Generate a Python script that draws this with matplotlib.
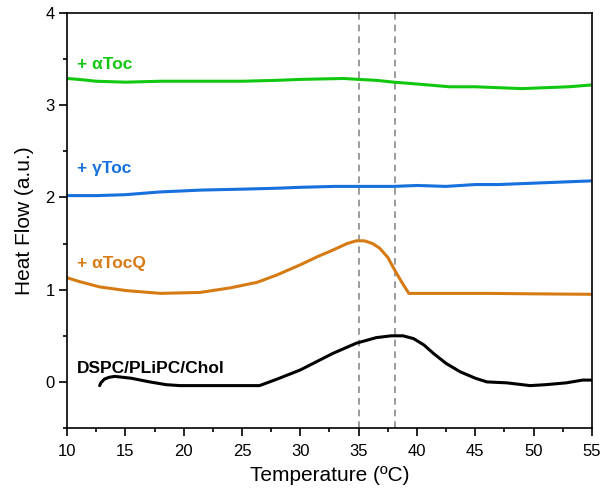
import matplotlib.pyplot as plt

plt.rcParams['font.family'] = ['Liberation Sans', 'DejaVu Sans']

# + alphaToc
t_a = [10, 11, 12.5, 15, 18, 21.5, 25, 28, 30, 33.7, 35, 36.5, 38, 40, 42.8, 45, 47, 49, 51, 53, 55]
h_a = [3.29, 3.28, 3.26, 3.25, 3.26, 3.26, 3.26, 3.27, 3.28, 3.29, 3.28, 3.27, 3.25, 3.23, 3.20, 3.20, 3.19, 3.18, 3.19, 3.20, 3.22]

# + gammaToc
t_g = [10, 12.5, 15, 18, 21.5, 25, 28, 30, 33, 35, 38, 40, 42.5, 45, 47, 49, 51, 53, 55]
h_g = [2.02, 2.02, 2.03, 2.06, 2.08, 2.09, 2.10, 2.11, 2.12, 2.12, 2.12, 2.13, 2.12, 2.14, 2.14, 2.15, 2.16, 2.17, 2.18]

# + alphaTocQ
t_q = [10, 11, 12.8, 15.1, 18, 21.4, 24, 26.3, 28, 30, 31.5, 32.8, 34, 34.8, 35.5, 36.2, 36.8, 37.5, 38.1, 38.7, 39.3, 42, 46, 50, 55]
h_q = [1.13, 1.09, 1.03, 0.99, 0.96, 0.97, 1.02, 1.08, 1.16, 1.27, 1.36, 1.43, 1.50, 1.53, 1.53, 1.50, 1.45, 1.35, 1.21, 1.08, 0.96, 0.96, 0.96, 0.955, 0.95]

# DSPC/PLiPC/Chol
t_c = [12.8, 12.9, 13.2, 13.6, 14.1, 15.5, 17.1, 18.5, 19.7, 22, 24, 26.5, 28, 30, 32.8, 34.8, 36.5, 37.8, 38.8, 39.7, 40.6, 41.4, 42.5,
       43.7, 45, 46, 47.7, 49.7, 51, 52.8, 54.2, 55]
h_c = [-0.04, -0.01, 0.03, 0.05, 0.06, 0.04, 0.00, -0.03, -0.04, -0.04, -0.04, -0.04, 0.03, 0.13, 0.31, 0.42, 0.48, 0.50, 0.50, 0.47, 0.40, 0.31,
       0.20, 0.11, 0.04, 0.00, -0.01, -0.04, -0.03, -0.01, 0.02, 0.02]

vlines = [35, 38.1]
labels = ['+ \u03b1Toc', '+ \u03b3Toc', '+ \u03b1TocQ', 'DSPC/PLiPC/Chol']
label_y = [3.39, 2.26, 1.24, 0.10]
colors = ['#11c811', '#1670dd', '#d67b14', '#000000']

fig = plt.figure(figsize=(6.01, 4.92), dpi=100)
ax = fig.add_axes([0.1115, 0.130, 0.8735, 0.8436])

for v in vlines:
    ax.axvline(v, color='#8a8a8a', ls=(0, (4, 3)), lw=1.2, zorder=1)

for (t, h), c in zip([(t_a, h_a), (t_g, h_g), (t_q, h_q), (t_c, h_c)], colors):
    ax.plot(t, h, color=c, lw=2.2, solid_capstyle='round', solid_joinstyle='round', zorder=2)

for lab, y, c in zip(labels, label_y, colors):
    ax.text(10.85, y, lab, color=c, fontsize=12.5, fontweight='bold', va='baseline')

ax.set_xlim(10, 55)
ax.set_ylim(-0.5, 4)
ax.set_xticks(range(10, 56, 5))
ax.set_xticks([x + 2.5 for x in range(10, 55, 5)], minor=True)
ax.set_yticks(range(0, 5))
ax.set_yticks([-0.5, 0.5, 1.5, 2.5, 3.5], minor=True)
ax.tick_params(which='both', direction='out', top=False, right=False, labelsize=12, width=1.2)
ax.tick_params(axis='x', which='major', pad=6)
ax.tick_params(which='major', length=5.5)
ax.tick_params(which='minor', length=3)
for s in ax.spines.values():
    s.set_linewidth(1.2)

ax.set_xlabel('Temperature (\u00baC)', fontsize=15, labelpad=5)
ax.set_ylabel('Heat Flow (a.u.)', fontsize=15, labelpad=8)

fig.savefig('out.png', dpi=100)
